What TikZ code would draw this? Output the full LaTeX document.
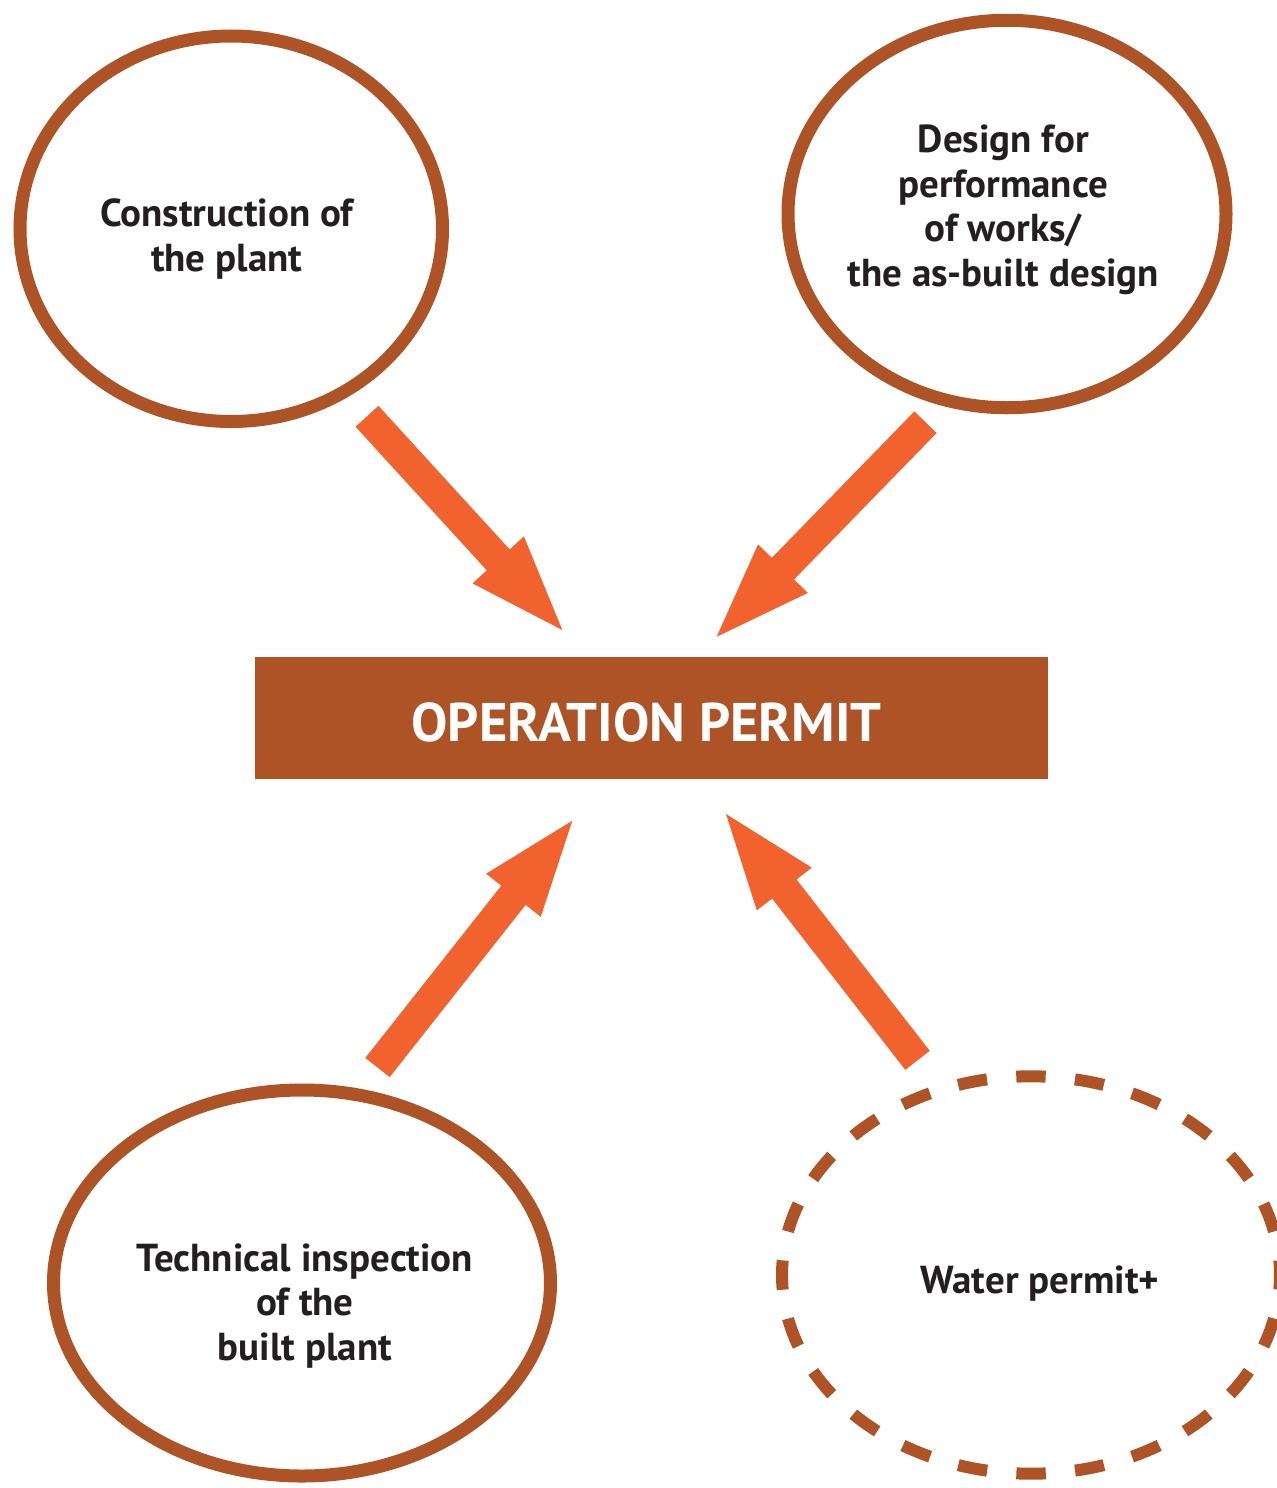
\documentclass[tikz,border=0pt]{standalone}
\usepackage{fontspec}
\setmainfont{PT Sans}
\usetikzlibrary{shapes.geometric,calc}
\definecolor{rust}{HTML}{AE5326}
\definecolor{flame}{HTML}{F2622E}
\definecolor{ink}{HTML}{231F20}
\newcommand\blockarrow[2]{%
  \coordinate (#1-hb) at ($(#2)!47.5pt!(#1)$);
  \fill[arrowfill] ($(#1)!7.75pt!90:(#2)$) -- ($(#1-hb)!7.75pt!90:(#2)$)
    -- ($(#1-hb)!17.4pt!90:(#2)$) -- (#2)
    -- ($(#1-hb)!17.4pt!-90:(#2)$) -- ($(#1-hb)!7.75pt!-90:(#2)$)
    -- ($(#1)!7.75pt!-90:(#2)$) -- cycle;}
\begin{document}
\begin{tikzpicture}[x=0.5pt,y=-0.5pt,
  ring/.style={ellipse, draw=rust, line width=6.5pt, inner sep=0pt},
  dashring/.style={ring, line width=6pt, dash pattern=on 14.7pt off 14.7pt, dash phase=7.35pt},
  lbl/.style={font=\bfseries\fontsize{19.5}{22.25}\selectfont, text=ink, align=center, anchor=base, inner sep=0pt},
  permitbox/.style={rectangle, fill=rust, minimum width=396.5pt, minimum height=61pt, inner sep=0pt},
  permittext/.style={font=\bfseries\fontsize{27.2}{30}\selectfont, text=white, anchor=base, inner sep=0pt},
  arrowfill/.style={fill=flame}]
\useasboundingbox (0,0) rectangle (1276,1488);
% ellipses
\node[ring, minimum width=211.25pt, minimum height=192.75pt] (construction) at (231.25,228.75) {};
\node[ring, minimum width=219pt, minimum height=193.75pt] (design) at (1007,214) {};
\node[ring, minimum width=248.5pt, minimum height=193pt] (inspection) at (302,1283) {};
\node[dashring, minimum width=249pt, minimum height=198.7pt] (water) at (1031,1275) {};
% labels (anchor = baseline of the last line)
\node[lbl] (constructiontext) at (226.7,271) {Construction of\\the plant};
\node[lbl] (designtext) at (1003.3,286) {Design for\\performance\\of works/\\the as-built design};
\node[lbl] (inspectiontext) at (305,1360) {Technical inspection\\of the\\built plant};
\node[lbl] (watertext) at (1040,1293) {Water permit+};
% permit
\node[permitbox] (permit) at (651.5,718) {};
\node[permittext] (permitlabel) at (646.5,741) {OPERATION PERMIT};
% arrows
\coordinate (a1) at (367,416.3);   \coordinate (a1p) at (562.3,630);
\coordinate (a2) at (925.5,422.2); \coordinate (a2p) at (716.7,636.7);
\coordinate (a3) at (377.5,1067.5);\coordinate (a3p) at (572.3,820.7);
\coordinate (a4) at (917.5,1060.3);\coordinate (a4p) at (726,814);
\blockarrow{a1}{a1p}
\blockarrow{a2}{a2p}
\blockarrow{a3}{a3p}
\blockarrow{a4}{a4p}
\end{tikzpicture}
\end{document}
